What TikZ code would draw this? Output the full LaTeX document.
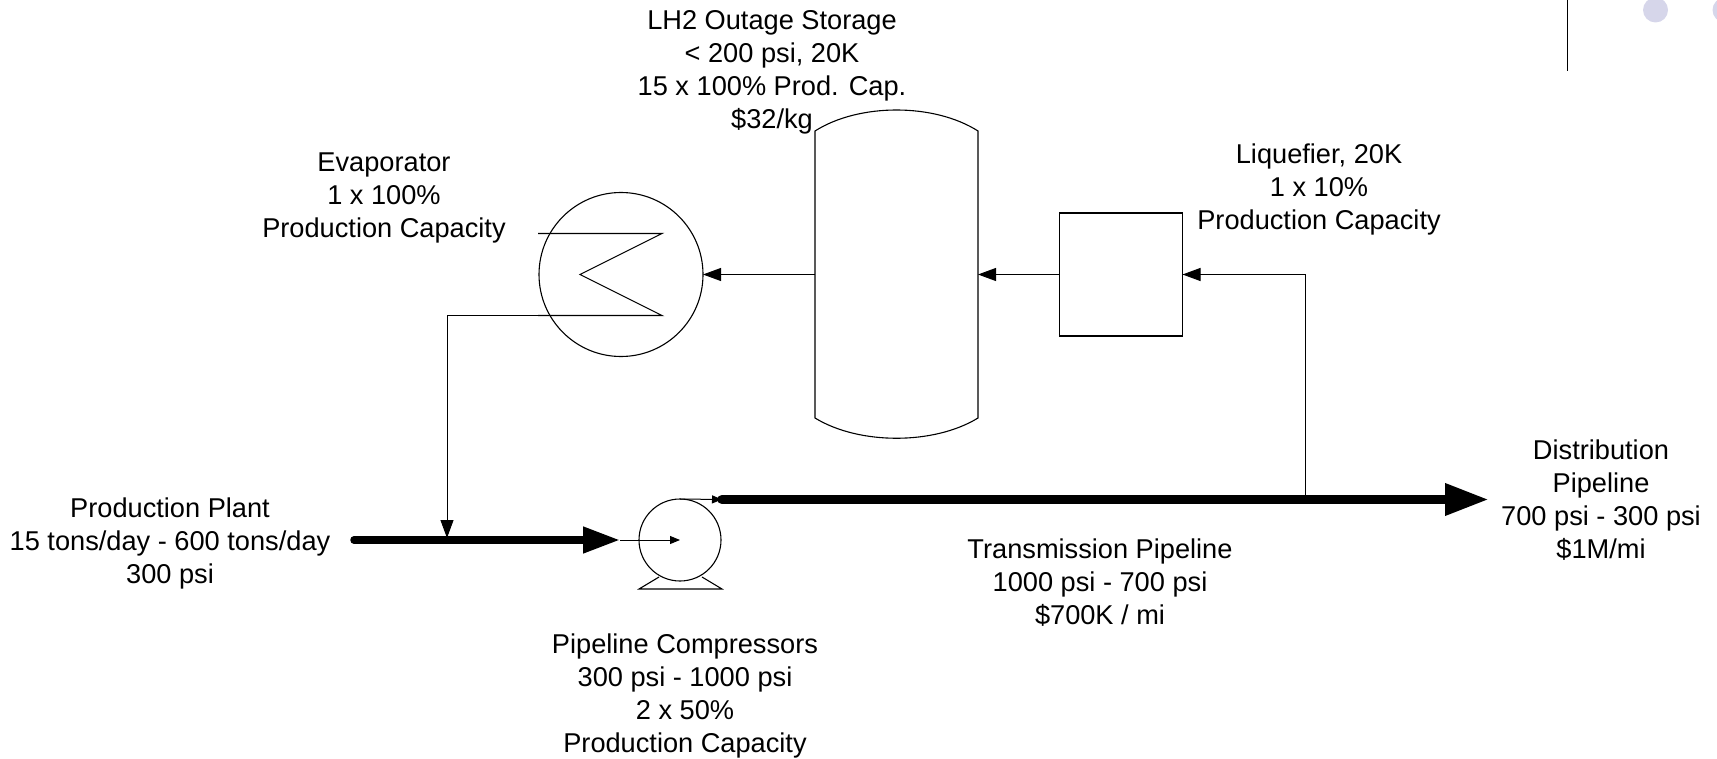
\documentclass[tikz,border=0pt]{standalone}
\usepackage{fontspec}
\setmainfont{Liberation Sans}
\usetikzlibrary{arrows.meta,positioning,calc}
\tikzset{
  lbl/.style={align=center,inner sep=0pt,font=\fontsize{13.6pt}{16.5pt}\selectfont},
  equip/.style={draw,line width=.55pt,inner sep=0pt,outer sep=0pt},
  conn/.style={line width=.5pt,-{Triangle[length=9pt,width=6.5pt]}},
  smallconn/.style={line width=.5pt,-{Triangle[length=5pt,width=4pt]}},
  feedpipe/.style={line width=3.75pt,line cap=round,-{Triangle[length=18.5pt,width=12.5pt]}},
  mainpipe/.style={line width=4.75pt,line cap=round,-{Triangle[length=22pt,width=15pt]}},
}
\begin{document}
\begin{tikzpicture}[x=.5pt,y=-.5pt,on grid]
    \useasboundingbox (0,0) rectangle (1717,759);
    % equipment
    \node[inner sep=0pt,outer sep=0pt,minimum width=81.5pt,minimum height=143.5pt] (vessel) at (896.5,274.5) {};
    \node[equip,minimum width=61.5pt,minimum height=61.5pt,right=112.25pt of vessel] (liq) {};
    \node[equip,circle,minimum size=82pt,left=137.75pt of vessel] (evap) {};
    \node[equip,circle,minimum size=41pt] (pump) at (680,540) {};
    \draw[line width=.55pt] (vessel.north west) .. controls +(44,-28) and +(-44,-28) .. (vessel.north east)
      -- (vessel.south east) .. controls +(-44,27) and +(44,27) .. (vessel.south west) -- cycle;
    % coil and pump base
    \coordinate (coilA) at ($(evap.center)+(-83,-41)$);
    \coordinate (coilB) at ($(evap.center)+(41,-41)$);
    \coordinate (coilC) at ($(evap.center)+(-41,0)$);
    \coordinate (coilD) at ($(evap.center)+(41,41)$);
    \coordinate (coilE) at ($(evap.center)+(-83,41)$);
    \draw[line width=.55pt] (coilA) -- (coilB) -- (coilC) -- (coilD) -- (coilE);
    \draw[line width=.55pt] ($(pump.center)+(-21,37)$) -- ($(pump.center)+(-41,49)$)
      -- ($(pump.center)+(42,49)$) -- ($(pump.center)+(22,37)$);
    % pipes
    \coordinate (feedA) at (354,540);
    \coordinate (feedB) at (620,540);
    \coordinate (tee) at (447,538);
    \coordinate (mainA) at (722,499.5);
    \coordinate (mainB) at (1489,499.5);
    \coordinate (tap) at (1305,496);
    \draw[feedpipe] (feedA) -- (feedB);
    \draw[mainpipe] (mainA) -- (mainB);
    \draw[conn] (vessel.west) -- (evap.east);
    \draw[conn] (liq.west) -- (vessel.east);
    \draw[conn] (tap) |- (liq.east);
    \draw[conn] (coilE) -| (tee);
    \draw[smallconn] (feedB) -- (pump.center);
    \draw[smallconn] (pump.north) -- (mainA);
    % labels
    \node[lbl] (storelbl) at (772,72) {LH2 Outage Storage\\< 200 psi, 20K\\15 x 100\% Prod. Cap.\\\$32/kg};
    \node[lbl] (evaplbl) at (384,198) {Evaporator\\1 x 100\%\\Production Capacity};
    \node[lbl] (liqlbl) at (1319,189.5) {Liquefier, 20K\\1 x 10\%\\Production Capacity};
    \node[lbl] (plantlbl) at (170,543) {Production Plant\\15 tons/day - 600 tons/day\\300 psi};
    \node[lbl] (complbl) at (685,696) {Pipeline Compressors\\300 psi - 1000 psi\\2 x 50\%\\Production Capacity};
    \node[lbl] (translbl) at (1100,582.5) {Transmission Pipeline\\1000 psi - 700 psi\\\$700K / mi};
    \node[lbl] (distlbl) at (1601,500) {Distribution\\Pipeline\\700 psi - 300 psi\\\$1M/mi};
    % corner marks
    \coordinate (barA) at (1567.5,0);
    \coordinate (barB) at (1567.5,71);
    \draw[line width=.7pt] (barA) -- (barB);
    \node[circle,fill={rgb,255:red,214;green,214;blue,234},minimum size=12.5pt,inner sep=0pt] (dotA) at (1655.5,10) {};
    \node[circle,fill={rgb,255:red,214;green,214;blue,234},minimum size=12.5pt,inner sep=0pt] (dotB) at (1725,10) {};
  \end{tikzpicture}
\end{document}
